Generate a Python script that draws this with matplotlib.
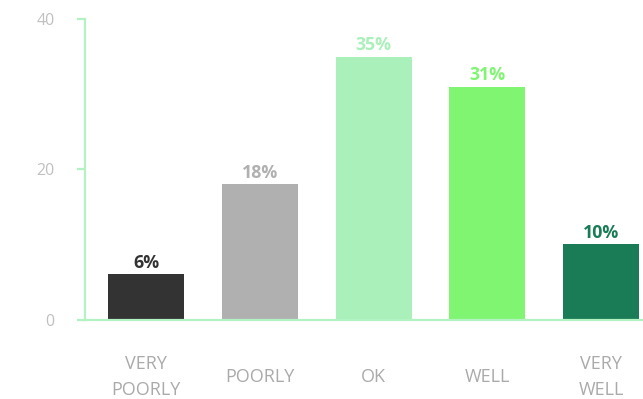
import matplotlib
matplotlib.use("Agg")
import matplotlib.pyplot as plt

categories = ["VERY\nPOORLY", "POORLY", "OK", "WELL", "VERY\nWELL"]
values = [6, 18, 35, 31, 10]
labels = ["6%", "18%", "35%", "31%", "10%"]
bar_colors = ["#333333", "#b0b0b0", "#aaf0ba", "#7ff572", "#1a7c56"]
yticks = [0, 20, 40]

plt.rcParams['font.family'] = ['Open Sans', 'DejaVu Sans']

fig = plt.figure(figsize=(6.43, 3.99), dpi=100)
ax = fig.add_axes([85/643, (399-319.5)/399, 1 - 85/643, (319.5-19)/399])

x = list(range(len(values)))
ax.bar(x, values, width=0.67, color=bar_colors, zorder=2)
for xi, v, lab, c in zip(x, values, labels, bar_colors):
    ax.annotate(lab, (xi, v), xytext=(0, 4.8), textcoords="offset points",
                ha="center", va="baseline", fontsize=12.8, fontweight="bold", color=c)

ax.set_xlim(-0.54, 4.37)
ax.set_ylim(0, 40)
ax.set_yticks(yticks)
ax.set_yticklabels([str(t) for t in yticks])
ax.set_xticks(x)
ax.set_xticklabels(categories, linespacing=1.52)
for t in ax.get_xticklabels():
    t.set_va("center")

spine_c = "#b3f2c3"
for s in ["top", "right"]:
    ax.spines[s].set_visible(False)
ax.spines["left"].set_color(spine_c)
ax.spines["bottom"].set_color(spine_c)
ax.spines["left"].set_linewidth(1.6)
ax.spines["bottom"].set_linewidth(1.6)
ax.tick_params(axis="y", colors=spine_c, length=6, width=1.6, labelcolor="#c0c0c0",
               labelsize=11.5, pad=16)
ax.tick_params(axis="x", length=0, labelcolor="#aaaaaa", labelsize=13, pad=41.5)

fig.savefig("out.png", dpi=100)
